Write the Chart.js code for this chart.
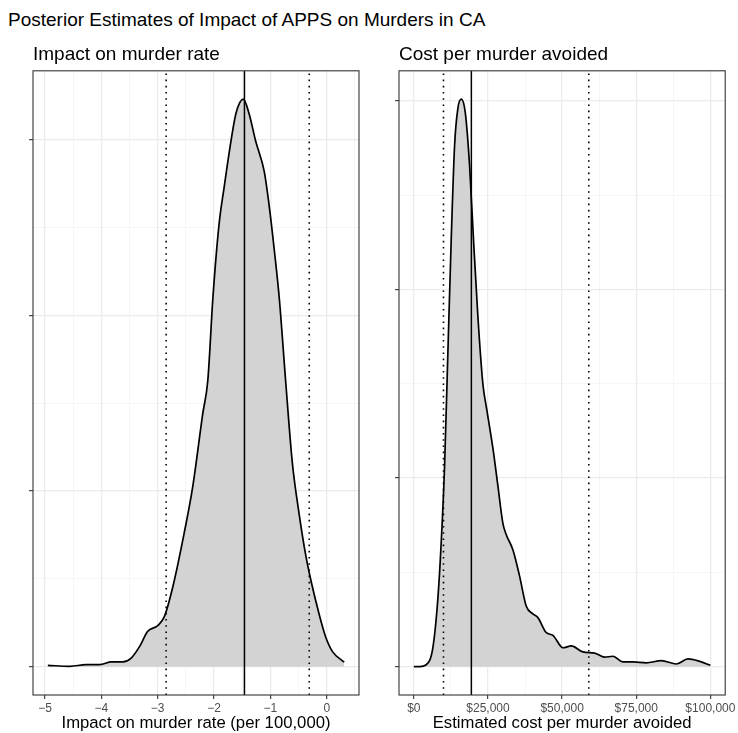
<!DOCTYPE html>
<html><head><meta charset="utf-8">
<script src="https://cdn.jsdelivr.net/npm/chart.js@4"></script>
<style>
html,body{margin:0;padding:0;background:#fff;}
#wrap{position:relative;width:738px;height:733px;overflow:hidden;background:#fff;}
#mainTitle{position:absolute;left:8px;top:10px;font-family:"Liberation Sans",Arial,sans-serif;font-size:19px;line-height:20px;color:#000;white-space:nowrap;}
.box{position:absolute;top:0;height:733px;}
#c1box{left:0;width:370px;}
#c2box{left:370px;width:368px;}
</style></head>
<body><div id="wrap">
<div id="mainTitle">Posterior Estimates of Impact of APPS on Murders in CA</div>
<div class="box" id="c1box"><canvas id="c1" width="370" height="733"></canvas></div>
<div class="box" id="c2box"><canvas id="c2" width="368" height="733"></canvas></div>
</div>
<script>
const FONT = '"Liberation Sans", Arial, sans-serif';

// ---- Left panel: impact on murder rate (per 100,000) ----
const leftTitle = 'Impact on murder rate';
const leftXTitle = 'Impact on murder rate (per 100,000)';
const leftX = [-4.95,-4.56,-4.27,-4.03,-3.82,-3.62,-3.47,-3.32,-3.18,-3.00,-2.88,-2.73,-2.53,-2.38,-2.20,-2.11,-2.02,-1.91,-1.82,-1.70,-1.61,-1.48,-1.38,-1.26,-1.11,-1.02,-0.93,-0.84,-0.73,-0.61,-0.49,-0.37,-0.28,-0.14,-0.02,0.10,0.31];
const leftDensity = [0.007,0.002,0.011,0.011,0.027,0.027,0.049,0.115,0.20,0.233,0.286,0.456,0.76,1.02,1.44,1.63,2.10,2.52,2.73,2.99,3.15,3.23,3.15,2.99,2.82,2.62,2.37,2.09,1.63,1.16,0.87,0.63,0.49,0.305,0.17,0.087,0.025];
const leftInterval = [-2.85, -1.46, -0.31];      // lower, median, upper
const leftXMajor = [-5,-4,-3,-2,-1,0];
const leftXLabels = ['\u22125','\u22124','\u22123','\u22122','\u22121','0'];
const leftXMinor = [-4.5,-3.5,-2.5,-1.5,-0.5,0.5];
const leftYMajor = [0,1,2,3];
const leftYMinor = [0.5,1.5,2.5];

// ---- Right panel: cost per murder avoided ----
const rightTitle = 'Cost per murder avoided';
const rightXTitle = 'Estimated cost per murder avoided';
const rightX = [0,2000,4180,6410,8100,9240,10360,11470,12600,13730,14840,15990,17340,18790,20140,21590,23280,24630,26650,28340,30030,31170,33400,35660,37920,40150,41840,44670,46900,50270,53100,57020,60960,64330,67140,70510,73890,78400,83460,88520,92440,96380,100000];
const rightDensity = [0,0,0.01,0.10,0.36,0.66,1.06,1.66,2.26,2.76,2.96,3.01,2.94,2.66,2.26,1.86,1.50,1.36,1.16,0.96,0.76,0.70,0.62,0.48,0.32,0.28,0.26,0.18,0.166,0.10,0.11,0.078,0.072,0.05,0.055,0.025,0.025,0.02,0.032,0.014,0.041,0.028,0.007];
const rightInterval = [10000, 19400, 59000];
const rightXMajor = [0,25000,50000,75000,100000];
const rightXLabels = ['$0','$25,000','$50,000','$75,000','$100,000'];
const rightXMinor = [12500,37500,62500,87500];
const rightYMajor = [0,1,2,3];
const rightYMinor = [0.5,1.5,2.5];

const frame = {
  id: 'frame',
  afterDatasetsDraw(chart) {
    const {ctx, chartArea: a} = chart;
    ctx.save();
    ctx.strokeStyle = '#333333';
    ctx.lineWidth = 1.1;
    ctx.strokeRect(a.left, a.top, a.right - a.left, a.bottom - a.top);
    ctx.restore();
  }
};

function isIn(v, arr) { return arr.some(m => Math.abs(m - v) < 1e-9); }

function expand(lo, hi) { const d = (hi - lo) * 0.05; return [lo - d, hi + d]; }

function makePanel(id, p) {
  const [xMin, xMax] = expand(Math.min(...p.xs), Math.max(...p.xs));
  const [yMin, yMax] = expand(0, Math.max(...p.ys));
  const density = p.xs.map((x, i) => ({x, y: p.ys[i]}));
  const dashes = [[1.6, 4.6], [], [1.6, 4.6]];
  const lines = p.interval.map((v, i) => ({
    data: [{x: v, y: yMin}, {x: v, y: yMax}],
    borderColor: '#000', borderWidth: i === 1 ? 1.5 : 1.6, borderDash: dashes[i],
    borderCapStyle: 'butt', pointRadius: 0, fill: false, tension: 0, order: 1
  }));
  const xTicks = p.xMajor.concat(p.xMinor).filter(v => v >= xMin && v <= xMax).sort((a, b) => a - b);
  const yTicks = p.yMajor.concat(p.yMinor).filter(v => v >= yMin && v <= yMax).sort((a, b) => a - b);
  const gridOpts = (major) => ({
    color: c => isIn(c.tick ? c.tick.value : NaN, major) ? '#EBEBEB' : '#F2F2F2',
    lineWidth: c => isIn(c.tick ? c.tick.value : NaN, major) ? 1.3 : 0.7,
    tickColor: c => isIn(c.tick ? c.tick.value : NaN, major) ? '#333333' : 'rgba(0,0,0,0)',
    tickWidth: 1.1,
    tickLength: 4,
    drawTicks: true
  });
  return new Chart(document.getElementById(id), {
    type: 'line',
    data: {
      datasets: lines.concat([{
        data: density,
        borderColor: '#000', borderWidth: 1.7,
        backgroundColor: 'rgb(211,211,211)',
        fill: 'origin', pointRadius: 0,
        cubicInterpolationMode: 'monotone', order: 2
      }])
    },
    options: {
      responsive: false, animation: false,
      layout: {padding: {left: 0, right: p.padRight, top: 40, bottom: 0}},
      plugins: {
        legend: {display: false}, tooltip: {enabled: false},
        title: {display: true, text: p.title, align: 'start', fullSize: false,
          color: '#000', font: {family: FONT, size: 19, weight: 'normal'},
          padding: {top: 3, bottom: 5}}
      },
      scales: {
        x: {
          type: 'linear', min: xMin, max: xMax,
          afterBuildTicks: s => { s.ticks = xTicks.map(v => ({value: v})); },
          afterFit: s => { s.height = 38; },
          ticks: {
            autoSkip: false, maxRotation: 0, minRotation: 0, padding: 2,
            color: '#4D4D4D', font: {family: FONT, size: 12},
            callback: v => { const k = p.xMajor.findIndex(m => Math.abs(m - v) < 1e-9); return k >= 0 ? p.xLabels[k] : ''; }
          },
          grid: gridOpts(p.xMajor),
          border: {display: false},
          title: {display: true, text: p.xTitle, color: '#000',
            font: {family: FONT, size: 16.7}, padding: {top: 0, bottom: 0}}
        },
        y: {
          type: 'linear', min: yMin, max: yMax,
          afterBuildTicks: s => { s.ticks = yTicks.map(v => ({value: v})); },
          afterFit: s => { s.width = p.yWidth; },
          ticks: {display: false},
          grid: gridOpts(p.yMajor),
          border: {display: false}
        }
      }
    },
    plugins: [frame]
  });
}

makePanel('c1', {xs: leftX, ys: leftDensity, interval: leftInterval, title: leftTitle, xTitle: leftXTitle,
  xMajor: leftXMajor, xLabels: leftXLabels, xMinor: leftXMinor, yMajor: leftYMajor, yMinor: leftYMinor,
  yWidth: 33, padRight: 11});
makePanel('c2', {xs: rightX, ys: rightDensity, interval: rightInterval, title: rightTitle, xTitle: rightXTitle,
  xMajor: rightXMajor, xLabels: rightXLabels, xMinor: rightXMinor, yMajor: rightYMajor, yMinor: rightYMinor,
  yWidth: 29, padRight: 12});
</script>
</body></html>
